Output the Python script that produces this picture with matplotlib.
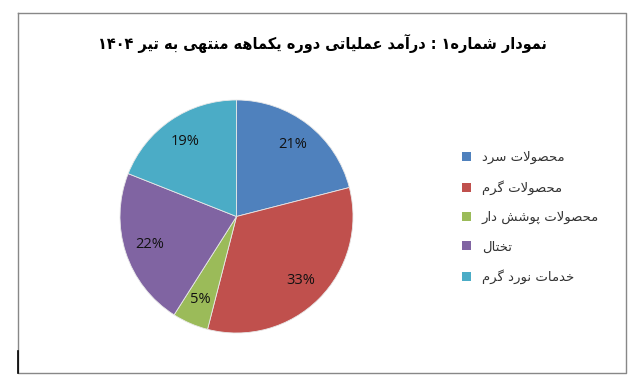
import matplotlib
matplotlib.use("Agg")
import matplotlib.pyplot as plt
from matplotlib.lines import Line2D

# ---------------- data ----------------
title_text = "نمودار شماره۱ : درآمد عملیاتی دوره یکماهه منتهی به تیر ۱۴۰۴"
categories = ["محصولات سرد", "محصولات گرم", "محصولات پوشش دار", "تختال", "خدمات نورد گرم"]
values = [21, 33, 5, 22, 19]
colors = ["#4F81BD", "#C0504D", "#9BBB59", "#8064A2", "#4BACC6"]

# ---------------- minimal Arabic/Persian shaping ----------------
FORMS = {
    "ا": ("\uFE8D", "\uFE8E", None, None),
    "آ": ("\uFE81", "\uFE82", None, None),
    "ب": ("\uFE8F", "\uFE90", "\uFE91", "\uFE92"),
    "پ": ("\uFB56", "\uFB57", "\uFB58", "\uFB59"),
    "ت": ("\uFE95", "\uFE96", "\uFE97", "\uFE98"),
    "ح": ("\uFEA1", "\uFEA2", "\uFEA3", "\uFEA4"),
    "خ": ("\uFEA5", "\uFEA6", "\uFEA7", "\uFEA8"),
    "د": ("\uFEA9", "\uFEAA", None, None),
    "ر": ("\uFEAD", "\uFEAE", None, None),
    "س": ("\uFEB1", "\uFEB2", "\uFEB3", "\uFEB4"),
    "ش": ("\uFEB5", "\uFEB6", "\uFEB7", "\uFEB8"),
    "ص": ("\uFEB9", "\uFEBA", "\uFEBB", "\uFEBC"),
    "ع": ("\uFEC9", "\uFECA", "\uFECB", "\uFECC"),
    "ل": ("\uFEDD", "\uFEDE", "\uFEDF", "\uFEE0"),
    "م": ("\uFEE1", "\uFEE2", "\uFEE3", "\uFEE4"),
    "ن": ("\uFEE5", "\uFEE6", "\uFEE7", "\uFEE8"),
    "ه": ("\uFEE9", "\uFEEA", "\uFEEB", "\uFEEC"),
    "و": ("\uFEED", "\uFEEE", None, None),
    "ی": ("\uFBFC", "\uFBFD", "\uFBFE", "\uFBFF"),
    "ک": ("\uFB8E", "\uFB8F", "\uFB90", "\uFB91"),
    "گ": ("\uFB92", "\uFB93", "\uFB94", "\uFB95"),
}
LAMALEF = ("\uFEFB", "\uFEFC")
DIGITS = set("0123456789۰۱۲۳۴۵۶۷۸۹")


def shape(text):
    chars = list(text)
    merged = []
    i = 0
    while i < len(chars):
        if chars[i] == "ل" and i + 1 < len(chars) and chars[i + 1] == "ا":
            merged.append("LA")
            i += 2
        else:
            merged.append(chars[i])
            i += 1
    out = []
    for i, c in enumerate(merged):
        prev = merged[i - 1] if i > 0 else None
        nxt = merged[i + 1] if i + 1 < len(merged) else None
        join_prev = prev is not None and (prev in FORMS and FORMS[prev][2] is not None)
        if c == "LA":
            out.append(LAMALEF[1] if join_prev else LAMALEF[0])
            continue
        if c not in FORMS:
            out.append(c)
            continue
        f = FORMS[c]
        join_next = f[2] is not None and nxt is not None and (nxt in FORMS or nxt == "LA")
        if join_prev and join_next:
            out.append(f[3])
        elif join_prev:
            out.append(f[1])
        elif join_next:
            out.append(f[2])
        else:
            out.append(f[0])
    s = "".join(out)
    runs = []
    for ch in s:
        isd = ch in DIGITS
        if runs and runs[-1][0] == isd:
            runs[-1][1].append(ch)
        else:
            runs.append([isd, [ch]])
    vis = []
    for isd, r in reversed(runs):
        vis.append("".join(r) if isd else "".join(reversed(r)))
    return "".join(vis)


# ---------------- figure ----------------
W, H = 642, 391
fig = plt.figure(figsize=(W / 100, H / 100), dpi=100)
fig.patch.set_facecolor("white")

fx0, fx1, fy0, fy1 = 17.5, 625.5, 12.5, 372.5
frame = Line2D([fx0 / W, fx1 / W, fx1 / W, fx0 / W, fx0 / W],
               [1 - fy0 / H, 1 - fy0 / H, 1 - fy1 / H, 1 - fy1 / H, 1 - fy0 / H],
               transform=fig.transFigure, color="#888888", lw=1.0)
fig.add_artist(frame)
fig.add_artist(Line2D([17.5 / W, 17.5 / W], [1 - 351 / H, 1 - 373 / H],
                      transform=fig.transFigure, color="black", lw=1.2))

cx, cy, r = 236.5, 216.5, 116.5
ax = fig.add_axes([(cx - r) / W, 1 - (cy + r) / H, 2 * r / W, 2 * r / H])
wedges, texts, autotexts = ax.pie(
    values, colors=colors, startangle=90, counterclock=False,
    autopct=lambda p: f"{p:.0f}%", pctdistance=0.78,
    wedgeprops=dict(edgecolor="#e8e8e8", linewidth=0.6),
    textprops=dict(fontsize=10.5, color="#111111", family="Open Sans"),
)
ax.set_xlim(-1, 1)
ax.set_ylim(-1, 1)
ax.set_aspect("equal")
ax.axis("off")

fig.text(322 / W, 1 - 43 / H, shape(title_text), ha="center", va="center",
         fontsize=11.6, fontweight="bold", fontstretch="condensed",
         family="DejaVu Sans", color="black")

leg = fig.legend(wedges, [shape(c) for c in categories],
                 loc="upper left", bbox_to_anchor=(462 / W, 1 - 151 / H),
                 frameon=False, prop=dict(family="DejaVu Sans", size=9.5),
                 handlelength=0.65, handleheight=0.65, handletextpad=0.85,
                 labelspacing=1.22, borderpad=0, borderaxespad=0)
for t in leg.get_texts():
    t.set_color("#333333")
for h in leg.legend_handles:
    h.set_edgecolor("none")

fig.savefig("out.png", dpi=100)
